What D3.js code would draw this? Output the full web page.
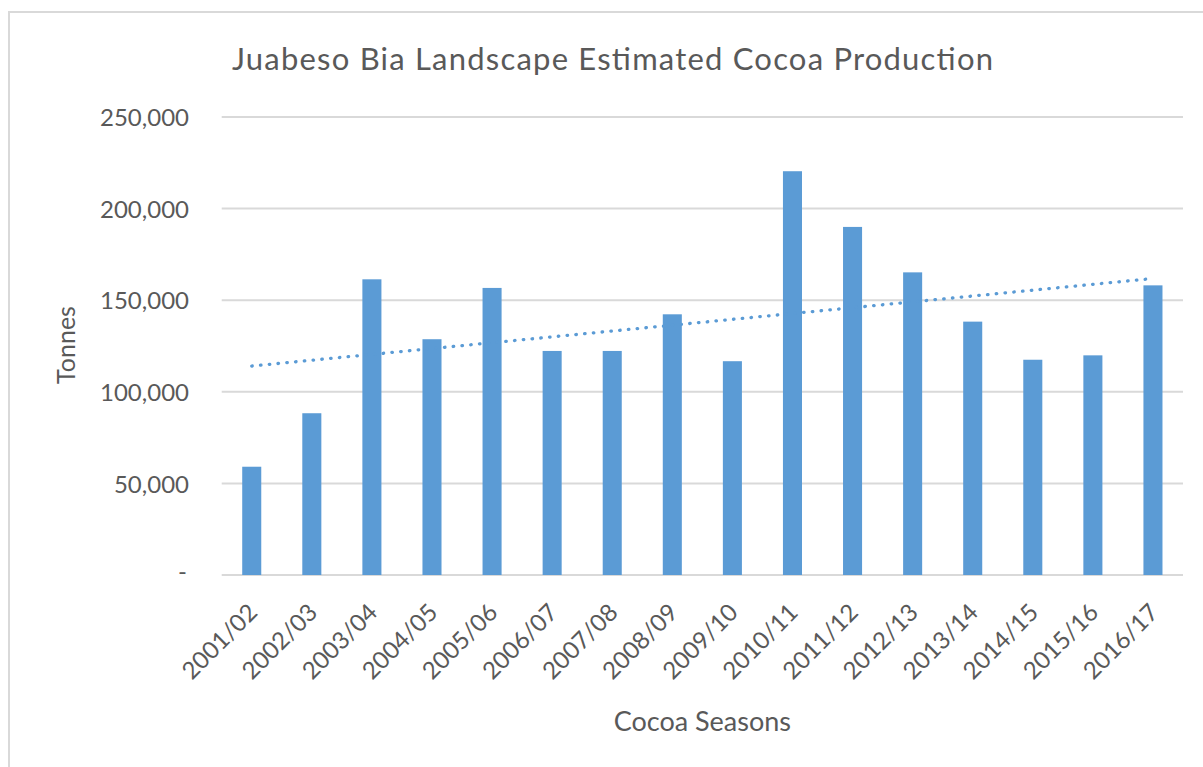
<!DOCTYPE html>
<html>
<head>
<meta charset="utf-8">
<script src="https://cdn.jsdelivr.net/npm/d3@7"></script>
<style>
  html, body { margin: 0; padding: 0; background: #fff; }
  svg { display: block; }
  text { font-family: Lato, "Open Sans", sans-serif; fill: #595959; }
</style>
</head>
<body>
<svg id="chart" width="1203" height="767"></svg>
<script>
const categories = ["2001/02","2002/03","2003/04","2004/05","2005/06","2006/07","2007/08","2008/09",
                    "2009/10","2010/11","2011/12","2012/13","2013/14","2014/15","2015/16","2016/17"];
const production = [59100, 88300, 161400, 128700, 156700, 122300, 122300, 142300,
                    116700, 220400, 190000, 165200, 138300, 117500, 119900, 158100];
const yTicks = [0, 50000, 100000, 150000, 200000, 250000];
const titleText = "Juabeso Bia Landscape Estimated Cocoa Production";
const xTitle = "Cocoa Seasons";
const yTitle = "Tonnes";

const svg = d3.select("#chart");
const plot = { left: 221.7, right: 1183, top: 117, bottom: 575 };
const barColor = "#5B9BD5";
const gridColor = "#D9D9D9";

// outer chart frame (right/bottom edges fall outside the view)
svg.append("rect")
  .attr("x", 9).attr("y", 12)
  .attr("width", 1220).attr("height", 780)
  .attr("fill", "#fff").attr("stroke", gridColor).attr("stroke-width", 2);

const x = d3.scaleBand().domain(categories)
  .range([plot.left, plot.right]).paddingInner(0.683).paddingOuter(0.683 / 2);
const y = d3.scaleLinear().domain([0, 250000]).range([plot.bottom, plot.top]);

// gridlines
svg.append("g").selectAll("line").data(yTicks).join("line")
  .attr("x1", plot.left).attr("x2", plot.right)
  .attr("y1", d => y(d)).attr("y2", d => y(d))
  .attr("stroke", gridColor).attr("stroke-width", 2);

// y axis tick labels
const fmt = d3.format(",");
const yAxis = d3.axisLeft(y).tickValues(yTicks).tickSize(0).tickPadding(0)
  .tickFormat(d => d === 0 ? "-" : fmt(d));
const yg = svg.append("g").attr("transform", `translate(${189},0)`).call(yAxis);
yg.select(".domain").remove();
yg.selectAll("text").attr("font-size", 24).attr("fill", "#595959")
  .style("font-family", "Lato, sans-serif").attr("dy", "0.36em");
yg.selectAll(".tick").filter(d => d === 0).select("text").attr("dx", -2).attr("dy", "0.2em");

// bars
svg.append("g").selectAll("rect").data(categories).join("rect")
  .attr("x", d => x(d))
  .attr("width", x.bandwidth())
  .attr("y", (d, i) => y(production[i]))
  .attr("height", (d, i) => y(0) - y(production[i]))
  .attr("fill", barColor);

// linear trendline (least squares fit of the series)
const n = production.length;
const xs = d3.range(n);
const mx = d3.mean(xs), my = d3.mean(production);
const slope = d3.sum(xs, i => (i - mx) * (production[i] - my)) / d3.sum(xs, i => (i - mx) ** 2);
const intercept = my - slope * mx;
const trend = [0, n - 1].map(i => [x(categories[i]) + x.bandwidth() / 2, y(intercept + slope * i)]);
svg.append("path")
  .attr("d", d3.line()(trend))
  .attr("fill", "none").attr("stroke", barColor)
  .attr("stroke-width", 3.3).attr("stroke-linecap", "round")
  .attr("stroke-dasharray", "0.5 8.3");

// x axis tick labels (rotated)
const xAxis = d3.axisBottom(x).tickSize(0).tickPadding(0);
const xg = svg.append("g").attr("transform", `translate(0,${plot.bottom})`).call(xAxis);
xg.select(".domain").remove();
xg.selectAll("text")
  .attr("font-size", 24).attr("fill", "#595959").style("font-family", "Lato, sans-serif")
  .attr("text-anchor", "end")
  .attr("x", 0).attr("y", 0).attr("dy", 0)
  .attr("transform", "translate(7,39) rotate(-45)");

// titles
svg.append("text").attr("x", 612.5).attr("y", 70)
  .attr("text-anchor", "middle").attr("font-size", 31)
  .attr("textLength", 761).attr("lengthAdjust", "spacing").text(titleText);
svg.append("text").attr("x", (plot.left + plot.right) / 2).attr("y", 731)
  .attr("text-anchor", "middle").attr("font-size", 27).text(xTitle);
svg.append("text").attr("transform", "translate(75,345) rotate(-90)")
  .attr("text-anchor", "middle").attr("font-size", 25).text(yTitle);
</script>
</body>
</html>
